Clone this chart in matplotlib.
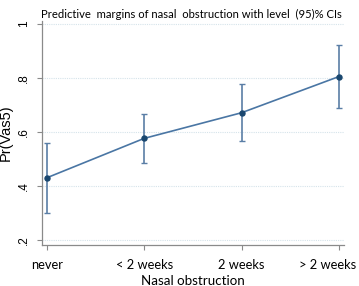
import matplotlib.pyplot as plt

# --- chart data ---
categories = ["never", "< 2 weeks", "2 weeks", "> 2 weeks"]
margins = [0.430, 0.576, 0.671, 0.805]
ci_low = [0.300, 0.486, 0.566, 0.689]
ci_high = [0.560, 0.666, 0.777, 0.923]
y_ticks = [0.2, 0.4, 0.6, 0.8, 1.0]
y_tick_labels = [".2", ".4", ".6", ".8", "1"]

x = list(range(len(categories)))
err_low = [m - lo for m, lo in zip(margins, ci_low)]
err_high = [hi - m for m, hi in zip(margins, ci_high)]

fig = plt.figure(figsize=(3.59, 2.86), dpi=100)
ax = fig.add_axes([0.117, 0.142, 0.841, 0.786])

# --- grid (Stata-like dotted light lines) ---
for yv in y_ticks:
    ax.axhline(yv, color="#d5e3ea", lw=0.8, ls=(0, (1, 1)), zorder=0)
ax.axvline(3.05, color="#e6eef2", lw=0.6, ls=(0, (1, 1)), zorder=0)

# --- confidence interval caps ---
ax.errorbar(x, margins, yerr=[err_low, err_high], fmt="none",
            ecolor="#5a7ea6", elinewidth=1.2, capsize=2.3, capthick=1.0, zorder=2)
# --- margins line and markers ---
ax.plot(x, margins, color="#4a76a4", lw=1.2, zorder=3)
ax.plot(x, margins, "o", color="#1a476f", ms=3.6, zorder=4)

ax.set_xlim(-0.048, 3.05)
ax.set_ylim(0.18, 1.012)
ax.set_xticks(x)
# last label is drawn separately, pulled left so it stays inside the figure
ax.set_xticklabels(categories[:-1] + [""], fontsize=9.3, family="Lato")
ax.annotate(categories[-1], xy=(x[-1], 0), xycoords=("data", "axes fraction"),
            xytext=(-8.3, -9.5), textcoords="offset points",
            ha="center", va="top", fontsize=9.3, family="Lato")
ax.set_yticks(y_ticks)
ax.set_yticklabels(y_tick_labels, fontsize=8.5, rotation=90, va="center",
                   family="Liberation Sans")

for side in ["top", "right"]:
    ax.spines[side].set_visible(False)
for side in ["left", "bottom"]:
    ax.spines[side].set_color("#8a8a8a")
    ax.spines[side].set_linewidth(0.9)
ax.tick_params(colors="#8a8a8a", labelcolor="black", length=3.5, width=0.8)
ax.tick_params(axis="x", pad=6)
ax.tick_params(axis="y", pad=5)

ax.set_xlabel("Nasal obstruction", fontsize=9.6, family="Lato", labelpad=3)
ax.set_ylabel("Pr(Vas5)", fontsize=10.5, family="Liberation Sans", labelpad=4)
fig.text(0.532, 0.95, "Predictive  margins of nasal  obstruction with level  (95)% CIs",
         ha="center", va="center", fontsize=8.1, family="Lato")

fig.savefig("out.png", dpi=100)
